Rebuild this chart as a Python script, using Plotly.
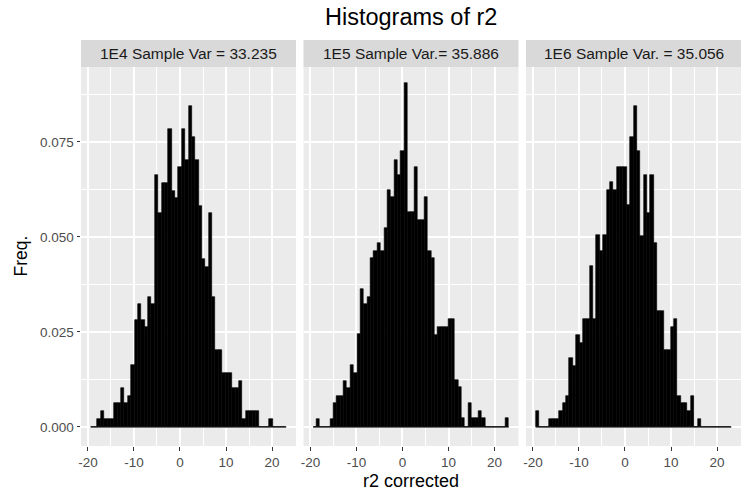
import numpy as np
import plotly.graph_objects as go

# ---------------- data ----------------
title = "Histograms of r2"
panel_titles = ["1E4 Sample Var = 33.235", "1E5 Sample Var.= 35.886", "1E6 Sample Var. = 35.056"]
x_label = "r2 corrected"
y_label = "Freq."

bin_start = -19.4
bin_end = 23.1

freq_1e4 = [0, 0, 0.0021, 0.0042, 0.0021, 0.0021, 0.0021, 0.0062, 0.0062, 0.0102,
            0.0062, 0.0082, 0.0162, 0.0282, 0.0323, 0.0282, 0.0262, 0.0343, 0.0323, 0.0663,
            0.0562, 0.0643, 0.0643, 0.0784, 0.0622, 0.0602, 0.0683, 0.0784, 0.0703, 0.0845,
            0.0764, 0.0703, 0.0582, 0.0442, 0.0422, 0.0564, 0.0343, 0.0203, 0.0203, 0.0143,
            0.0143, 0.0143, 0.0102, 0.0102, 0.0122, 0.0021, 0.0042, 0.0042, 0.0042, 0.0042,
            0, 0, 0, 0.0021, 0, 0, 0, 0]

freq_1e5 = [0, 0.0021, 0, 0, 0, 0.0021, 0.0062, 0.0082, 0.0082, 0.0122,
            0.0102, 0.0163, 0.0143, 0.0244, 0.0363, 0.0323, 0.0343, 0.0444, 0.0464, 0.0483,
            0.0464, 0.0523, 0.0624, 0.0604, 0.0703, 0.0663, 0.0725, 0.0904, 0.0565, 0.0565,
            0.0683, 0.0545, 0.0545, 0.0604, 0.0463, 0.0444, 0.0242, 0.0262, 0.0262, 0.0262,
            0.0283, 0.0283, 0.0124, 0.0104, 0.0023, 0, 0.0062, 0.0023, 0.0023, 0.0042,
            0.0023, 0, 0, 0, 0, 0, 0, 0.0023]

freq_1e6 = [0.0042, 0, 0, 0, 0.0021, 0.0021, 0.0021, 0.0042, 0.0062, 0.0082,
            0.0182, 0.0161, 0.0242, 0.0222, 0.0283, 0.0283, 0.0424, 0.0283, 0.0504, 0.0463,
            0.0504, 0.0624, 0.0644, 0.0624, 0.0683, 0.0683, 0.0683, 0.0583, 0.0764, 0.0845,
            0.0725, 0.0503, 0.0663, 0.0562, 0.0663, 0.0483, 0.0304, 0.0304, 0.0203, 0.0203,
            0.0262, 0.0283, 0.0082, 0.0062, 0.0062, 0.0042, 0.0082, 0, 0.0021, 0,
            0, 0, 0, 0, 0, 0, 0, 0]

x_tick_vals = [-20, -10, 0, 10, 20]
x_tick_text = ["-20", "-10", "0", "10", "20"]
x_minor_vals = [-15, -5, 5, 15, 25]
y_tick_vals = [0, 0.025, 0.05, 0.075]
y_tick_text = ["0.000", "0.025", "0.050", "0.075"]
y_minor_vals = [0.0125, 0.0375, 0.0625, 0.0875]

# ---------------- layout geometry (pixels) ----------------
W, H = 747, 498
panels_px = [(81, 296), (303.5, 518.5), (526, 741)]
panel_top, panel_bottom = 67, 446
strip_top = 40
x_range = [-21.5, 25.2]
y_range = [-0.0050, 0.0947]

FONT = "Liberation Sans, Arial, Helvetica, sans-serif"
PANEL_BG = "#EBEBEB"
STRIP_BG = "#D9D9D9"

def px_x(p):
    return p / W

def px_y(p):
    return 1 - p / H

series = [freq_1e4, freq_1e5, freq_1e6]

fig = go.Figure()
for k, freqs in enumerate(series):
    n = len(freqs)
    edges = np.linspace(bin_start, bin_end, n + 1)
    centers = (edges[:-1] + edges[1:]) / 2
    width = edges[1] - edges[0]
    xa = "x" if k == 0 else f"x{k+1}"
    ya = "y" if k == 0 else f"y{k+1}"
    fig.add_trace(go.Scatter(x=[edges[0], edges[-1]], y=[0, 0], mode="lines",
                             line=dict(color="black", width=1.2),
                             xaxis=xa, yaxis=ya, showlegend=False, hoverinfo="skip"))
    fig.add_trace(go.Bar(x=centers, y=freqs, width=width,
                         marker=dict(color="#000000", line=dict(color="#000000", width=0.6)),
                         xaxis=xa, yaxis=ya, showlegend=False))

axis_common = dict(showline=False, zeroline=False, showgrid=True, automargin=False,
                   gridcolor="white", gridwidth=1.6,
                   ticks="outside", ticklen=3.5, tickwidth=1, tickcolor="#333333",
                   tickfont=dict(family=FONT, size=13.5, color="#4D4D4D"))

layout = dict(width=W, height=H, margin=dict(l=0, r=0, t=0, b=0, autoexpand=False),
              paper_bgcolor="white", plot_bgcolor=PANEL_BG, bargap=0,
              font=dict(family=FONT), showlegend=False)

for k, (l, r) in enumerate(panels_px):
    xname = "xaxis" if k == 0 else f"xaxis{k+1}"
    yname = "yaxis" if k == 0 else f"yaxis{k+1}"
    ya = "y" if k == 0 else f"y{k+1}"
    xa = "x" if k == 0 else f"x{k+1}"
    layout[xname] = dict(axis_common, domain=[px_x(l), px_x(r)], range=x_range,
                         anchor=ya, tickmode="array", tickvals=x_tick_vals, ticktext=x_tick_text,
                         minor=dict(tickmode="array", tickvals=x_minor_vals, showgrid=True,
                                    gridcolor="white", gridwidth=0.8, ticks=""))
    ydict = dict(axis_common, domain=[px_y(panel_bottom), px_y(panel_top)], range=y_range,
                 anchor=xa, tickmode="array", tickvals=y_tick_vals, ticktext=y_tick_text,
                 minor=dict(tickmode="array", tickvals=y_minor_vals, showgrid=True,
                            gridcolor="white", gridwidth=0.8, ticks=""))
    if k > 0:
        ydict.update(showticklabels=False, ticks="", matches="y")
    layout[yname] = ydict

shapes = []
annotations = []
for k, (l, r) in enumerate(panels_px):
    shapes.append(dict(type="rect", xref="paper", yref="paper",
                       x0=px_x(l), x1=px_x(r), y0=px_y(panel_top), y1=px_y(strip_top),
                       fillcolor=STRIP_BG, line=dict(width=0), layer="below"))
    annotations.append(dict(text=panel_titles[k], xref="paper", yref="paper",
                            x=px_x((l + r) / 2), y=px_y((strip_top + panel_top) / 2),
                            xanchor="center", yanchor="middle", showarrow=False,
                            font=dict(family=FONT, size=15.5, color="#1A1A1A")))

center_x = (panels_px[0][0] + panels_px[-1][1]) / 2
annotations.append(dict(text=title, xref="paper", yref="paper", x=px_x(center_x), y=px_y(17),
                        xanchor="center", yanchor="middle", showarrow=False,
                        font=dict(family=FONT, size=23.5, color="black")))
annotations.append(dict(text=x_label, xref="paper", yref="paper", x=px_x(center_x), y=px_y(481),
                        xanchor="center", yanchor="middle", showarrow=False,
                        font=dict(family=FONT, size=18, color="black")))
annotations.append(dict(text=y_label, xref="paper", yref="paper", x=px_x(20),
                        y=px_y((panel_top + panel_bottom) / 2), textangle=-90,
                        xanchor="center", yanchor="middle", showarrow=False,
                        font=dict(family=FONT, size=17.5, color="black")))

layout["shapes"] = shapes
layout["annotations"] = annotations
fig.update_layout(**layout)

fig.write_html("out.html", config={"displayModeBar": False},
               post_script="document.body.style.margin='0';document.body.style.overflow='hidden';")
